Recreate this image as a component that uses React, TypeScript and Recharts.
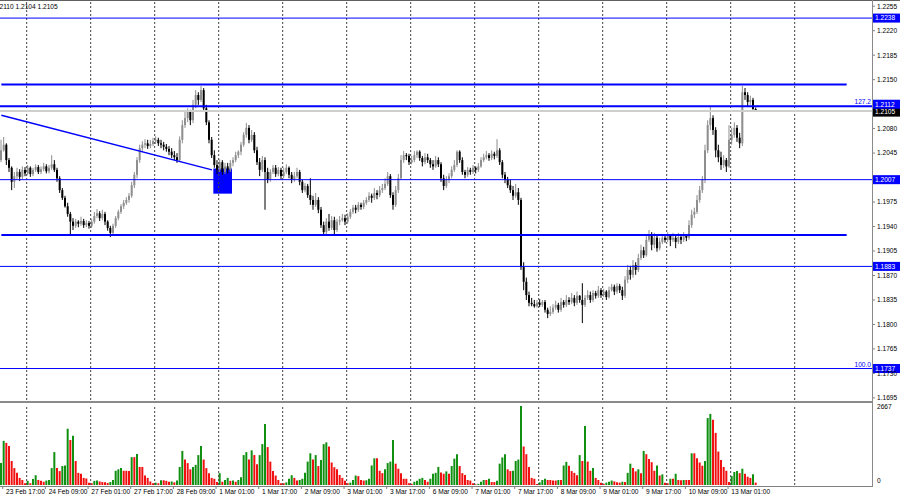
import { ComposedChart, Bar, Cell, XAxis, YAxis, ReferenceLine, ReferenceArea } from 'recharts'

// H1 candles, [open, high, low, close]
const candles: [number, number, number, number][] = [
  [1.2035, 1.2064, 1.2032, 1.2049], [1.2049, 1.2068, 1.2047, 1.2057], [1.2057, 1.2059, 1.2028, 1.2035], [1.2035, 1.2038, 1.2018, 1.2024],
  [1.2024, 1.2026, 1.1992, 1.2004], [1.2004, 1.2018, 1.1995, 1.2012], [1.2012, 1.2024, 1.2008, 1.2018], [1.2018, 1.2022, 1.2005, 1.2011],
  [1.2011, 1.2026, 1.2008, 1.2021], [1.2021, 1.2025, 1.2012, 1.2016], [1.2016, 1.2028, 1.2014, 1.2024], [1.2024, 1.2026, 1.2011, 1.2015],
  [1.2015, 1.2024, 1.2012, 1.2021], [1.2021, 1.2029, 1.2018, 1.2025], [1.2025, 1.2028, 1.2015, 1.2018], [1.2018, 1.2026, 1.2015, 1.2022],
  [1.2022, 1.2031, 1.2019, 1.2026], [1.2026, 1.2029, 1.2016, 1.2019], [1.2019, 1.2028, 1.2016, 1.2024], [1.2024, 1.2042, 1.2021, 1.2029],
  [1.2029, 1.2035, 1.2018, 1.2021], [1.2021, 1.2024, 1.2004, 1.2009], [1.2009, 1.2012, 1.1988, 1.1992], [1.1992, 1.1995, 1.1978, 1.1981],
  [1.1981, 1.1984, 1.1967, 1.1969], [1.1969, 1.1974, 1.1954, 1.1958], [1.1958, 1.1961, 1.1929, 1.1947], [1.1947, 1.1952, 1.1935, 1.1941],
  [1.1941, 1.1951, 1.1938, 1.1947], [1.1947, 1.1949, 1.1939, 1.1944], [1.1944, 1.1954, 1.1941, 1.1948], [1.1948, 1.1951, 1.1938, 1.1942],
  [1.1942, 1.1949, 1.1939, 1.1945], [1.1945, 1.1948, 1.1937, 1.1941], [1.1941, 1.1951, 1.1938, 1.1947], [1.1947, 1.1961, 1.1944, 1.1955],
  [1.1955, 1.1965, 1.1952, 1.1959], [1.1959, 1.1962, 1.1948, 1.1952], [1.1952, 1.1964, 1.1949, 1.1958], [1.1958, 1.1961, 1.1942, 1.1947],
  [1.1947, 1.1949, 1.1934, 1.1938], [1.1938, 1.1941, 1.1925, 1.1931], [1.1931, 1.1944, 1.1928, 1.1941], [1.1941, 1.1955, 1.1938, 1.1952],
  [1.1952, 1.1964, 1.1949, 1.1961], [1.1961, 1.1972, 1.1958, 1.1969], [1.1969, 1.1978, 1.1965, 1.1974], [1.1974, 1.1982, 1.1971, 1.1978],
  [1.1978, 1.1988, 1.1974, 1.1984], [1.1984, 1.2004, 1.1981, 1.1999], [1.1999, 1.2018, 1.1995, 1.2014], [1.2014, 1.2039, 1.2009, 1.2035],
  [1.2035, 1.2057, 1.2031, 1.2052], [1.2052, 1.2062, 1.2047, 1.2057], [1.2057, 1.2065, 1.2052, 1.2059], [1.2059, 1.2064, 1.2051, 1.2055],
  [1.2055, 1.2064, 1.2052, 1.2058], [1.2058, 1.2067, 1.2055, 1.2062], [1.2062, 1.2069, 1.2058, 1.2064], [1.2064, 1.2067, 1.2055, 1.2059],
  [1.2059, 1.2064, 1.2052, 1.2057], [1.2057, 1.2061, 1.2049, 1.2054], [1.2054, 1.2058, 1.2047, 1.2051], [1.2051, 1.2055, 1.2042, 1.2047],
  [1.2047, 1.2052, 1.2038, 1.2042], [1.2042, 1.2048, 1.2035, 1.2039], [1.2039, 1.2045, 1.2031, 1.2035], [1.2035, 1.2069, 1.2032, 1.2064],
  [1.2064, 1.2092, 1.2059, 1.2085], [1.2085, 1.2104, 1.2081, 1.2095], [1.2095, 1.2109, 1.2089, 1.2104], [1.2104, 1.2107, 1.2085, 1.2092],
  [1.2092, 1.2121, 1.2088, 1.2114], [1.2114, 1.2135, 1.2109, 1.2128], [1.2128, 1.2132, 1.2114, 1.2121], [1.2121, 1.2141, 1.2118, 1.2135],
  [1.2135, 1.2138, 1.2104, 1.2109], [1.2109, 1.2114, 1.2085, 1.2089], [1.2089, 1.2092, 1.2059, 1.2064], [1.2064, 1.2068, 1.2038, 1.2042],
  [1.2042, 1.2049, 1.2024, 1.2028], [1.2028, 1.2035, 1.2015, 1.2021], [1.2021, 1.2036, 1.2018, 1.2032], [1.2032, 1.2035, 1.2014, 1.2018],
  [1.2018, 1.2031, 1.2015, 1.2026], [1.2026, 1.2031, 1.2016, 1.2021], [1.2021, 1.2035, 1.2018, 1.2031], [1.2031, 1.2039, 1.2026, 1.2035],
  [1.2035, 1.2047, 1.2032, 1.2042], [1.2042, 1.2049, 1.2038, 1.2047], [1.2047, 1.2061, 1.2042, 1.2057], [1.2057, 1.2075, 1.2054, 1.2071],
  [1.2071, 1.2088, 1.2067, 1.2081], [1.2081, 1.2085, 1.2059, 1.2064], [1.2064, 1.2078, 1.2061, 1.2071], [1.2071, 1.2075, 1.2045, 1.2049],
  [1.2049, 1.2054, 1.2028, 1.2032], [1.2032, 1.2038, 1.2012, 1.2021], [1.2021, 1.2041, 1.2018, 1.2035], [1.2035, 1.2039, 1.1964, 1.2018],
  [1.2018, 1.2024, 1.2002, 1.2007], [1.2007, 1.2022, 1.2004, 1.2018], [1.2018, 1.2028, 1.2015, 1.2024], [1.2024, 1.2028, 1.2011, 1.2015],
  [1.2015, 1.2025, 1.2012, 1.2021], [1.2021, 1.2024, 1.2007, 1.2012], [1.2012, 1.2024, 1.2009, 1.2018], [1.2018, 1.2029, 1.2015, 1.2024],
  [1.2024, 1.2026, 1.2009, 1.2014], [1.2014, 1.2018, 1.2002, 1.2007], [1.2007, 1.2018, 1.2004, 1.2012], [1.2012, 1.2024, 1.2009, 1.2018],
  [1.2018, 1.2021, 1.1999, 1.2004], [1.2004, 1.2007, 1.1988, 1.1992], [1.1992, 1.2002, 1.1989, 1.1998], [1.1998, 1.2001, 1.1981, 1.1985],
  [1.1985, 1.2009, 1.1971, 1.1978], [1.1978, 1.1984, 1.1964, 1.1971], [1.1971, 1.1988, 1.1968, 1.1978], [1.1978, 1.1982, 1.1959, 1.1964],
  [1.1964, 1.1968, 1.1938, 1.1942], [1.1942, 1.1947, 1.1927, 1.1932], [1.1932, 1.1952, 1.1929, 1.1947], [1.1947, 1.1958, 1.1934, 1.1938],
  [1.1938, 1.1955, 1.1935, 1.1949], [1.1949, 1.1954, 1.1927, 1.1935], [1.1935, 1.1951, 1.1932, 1.1947], [1.1947, 1.1955, 1.1942, 1.1949],
  [1.1949, 1.1958, 1.1947, 1.1952], [1.1952, 1.1957, 1.1942, 1.1947], [1.1947, 1.1959, 1.1944, 1.1954], [1.1954, 1.1965, 1.1951, 1.1961],
  [1.1961, 1.1971, 1.1958, 1.1967], [1.1967, 1.1971, 1.1959, 1.1964], [1.1964, 1.1975, 1.1961, 1.1971], [1.1971, 1.1974, 1.1964, 1.1968],
  [1.1968, 1.1978, 1.1965, 1.1974], [1.1974, 1.1982, 1.1971, 1.1978], [1.1978, 1.1989, 1.1975, 1.1984], [1.1984, 1.1987, 1.1974, 1.1981],
  [1.1981, 1.1995, 1.1978, 1.1988], [1.1988, 1.1992, 1.1979, 1.1985], [1.1985, 1.1998, 1.1982, 1.1992], [1.1992, 1.2001, 1.1988, 1.1995],
  [1.1995, 1.2009, 1.1992, 1.2001], [1.2001, 1.2018, 1.1998, 1.2012], [1.2012, 1.2015, 1.1981, 1.1985], [1.1985, 1.1989, 1.1964, 1.1971],
  [1.1971, 1.1998, 1.1968, 1.1992], [1.1992, 1.2015, 1.1988, 1.2009], [1.2009, 1.2042, 1.2007, 1.2035], [1.2035, 1.2048, 1.2031, 1.2042],
  [1.2042, 1.2045, 1.2035, 1.2041], [1.2041, 1.2044, 1.2028, 1.2032], [1.2032, 1.2041, 1.2029, 1.2035], [1.2035, 1.2048, 1.2032, 1.2042],
  [1.2042, 1.2049, 1.2038, 1.2047], [1.2047, 1.2049, 1.2034, 1.2038], [1.2038, 1.2041, 1.2026, 1.2032], [1.2032, 1.2045, 1.2029, 1.2039],
  [1.2039, 1.2044, 1.2031, 1.2035], [1.2035, 1.2038, 1.2024, 1.2029], [1.2029, 1.2035, 1.2021, 1.2026], [1.2026, 1.2041, 1.2024, 1.2035],
  [1.2035, 1.2039, 1.2025, 1.2029], [1.2029, 1.2032, 1.2004, 1.2009], [1.2009, 1.2014, 1.1992, 1.1998], [1.1998, 1.2012, 1.1995, 1.2007],
  [1.2007, 1.2016, 1.2002, 1.2012], [1.2012, 1.2026, 1.2009, 1.2021], [1.2021, 1.2035, 1.2018, 1.2028], [1.2028, 1.2049, 1.2025, 1.2047],
  [1.2047, 1.2049, 1.2031, 1.2035], [1.2035, 1.2039, 1.2014, 1.2018], [1.2018, 1.2021, 1.2009, 1.2014], [1.2014, 1.2025, 1.2011, 1.2021],
  [1.2021, 1.2024, 1.2014, 1.2018], [1.2018, 1.2028, 1.2015, 1.2024], [1.2024, 1.2026, 1.2016, 1.2021], [1.2021, 1.2031, 1.2018, 1.2026],
  [1.2026, 1.2039, 1.2024, 1.2035], [1.2035, 1.2044, 1.2032, 1.2039], [1.2039, 1.2048, 1.2036, 1.2042], [1.2042, 1.2045, 1.2034, 1.2038],
  [1.2038, 1.2049, 1.2035, 1.2044], [1.2044, 1.2047, 1.2036, 1.2041], [1.2041, 1.2065, 1.2038, 1.2049], [1.2049, 1.2052, 1.2028, 1.2032],
  [1.2032, 1.2035, 1.2009, 1.2014], [1.2014, 1.2018, 1.2002, 1.2007], [1.2007, 1.2011, 1.1995, 1.1999], [1.1999, 1.2007, 1.1988, 1.1992],
  [1.1992, 1.1998, 1.1978, 1.1984], [1.1984, 1.2001, 1.1981, 1.1989], [1.1989, 1.1995, 1.1971, 1.1978], [1.1978, 1.1981, 1.1878, 1.1882],
  [1.1882, 1.1889, 1.1849, 1.1861], [1.1861, 1.1867, 1.1835, 1.1842], [1.1842, 1.1847, 1.1826, 1.1831], [1.1831, 1.1838, 1.1826, 1.1829],
  [1.1829, 1.1835, 1.1824, 1.1826], [1.1826, 1.1835, 1.1824, 1.1831], [1.1831, 1.1836, 1.1825, 1.1828], [1.1828, 1.1835, 1.1825, 1.1832],
  [1.1832, 1.1835, 1.1817, 1.1821], [1.1821, 1.1824, 1.1809, 1.1815], [1.1815, 1.1826, 1.1812, 1.1818], [1.1818, 1.1829, 1.1815, 1.1824],
  [1.1824, 1.1834, 1.1821, 1.1828], [1.1828, 1.1831, 1.1817, 1.1821], [1.1821, 1.1838, 1.1818, 1.1832], [1.1832, 1.1835, 1.1824, 1.1828],
  [1.1828, 1.1842, 1.1825, 1.1835], [1.1835, 1.1839, 1.1828, 1.1832], [1.1832, 1.1845, 1.1829, 1.1838], [1.1838, 1.1842, 1.1826, 1.1831],
  [1.1831, 1.1847, 1.1828, 1.1841], [1.1841, 1.1842, 1.1831, 1.1835], [1.1835, 1.1859, 1.1802, 1.1828], [1.1828, 1.1842, 1.1825, 1.1838],
  [1.1838, 1.1849, 1.1835, 1.1842], [1.1842, 1.1847, 1.1831, 1.1835], [1.1835, 1.1849, 1.1832, 1.1845], [1.1845, 1.1848, 1.1837, 1.1841],
  [1.1841, 1.1855, 1.1838, 1.1849], [1.1849, 1.1852, 1.1838, 1.1842], [1.1842, 1.1851, 1.1839, 1.1847], [1.1847, 1.1849, 1.1835, 1.1839],
  [1.1839, 1.1854, 1.1837, 1.1849], [1.1849, 1.1858, 1.1847, 1.1854], [1.1854, 1.1857, 1.1842, 1.1847], [1.1847, 1.1859, 1.1844, 1.1855],
  [1.1855, 1.1858, 1.1845, 1.1849], [1.1849, 1.1854, 1.1835, 1.1841], [1.1841, 1.1869, 1.1838, 1.1864], [1.1864, 1.1885, 1.1859, 1.1878],
  [1.1878, 1.1884, 1.1864, 1.1871], [1.1871, 1.1892, 1.1867, 1.1885], [1.1885, 1.1889, 1.1871, 1.1878], [1.1878, 1.1901, 1.1875, 1.1895],
  [1.1895, 1.1914, 1.1892, 1.1906], [1.1906, 1.1911, 1.1895, 1.1899], [1.1899, 1.1927, 1.1897, 1.1921], [1.1921, 1.1935, 1.1918, 1.1928],
  [1.1928, 1.1932, 1.1906, 1.1914], [1.1914, 1.1931, 1.1909, 1.1924], [1.1924, 1.1928, 1.1904, 1.1909], [1.1909, 1.1924, 1.1906, 1.1918],
  [1.1918, 1.1928, 1.1915, 1.1924], [1.1924, 1.1927, 1.1917, 1.1921], [1.1921, 1.1932, 1.1918, 1.1927], [1.1927, 1.1929, 1.1912, 1.1921],
  [1.1921, 1.1931, 1.1918, 1.1924], [1.1924, 1.1927, 1.1909, 1.1918], [1.1918, 1.1931, 1.1915, 1.1925], [1.1925, 1.1928, 1.1915, 1.1921],
  [1.1921, 1.1932, 1.1918, 1.1927], [1.1927, 1.1929, 1.1919, 1.1924], [1.1924, 1.1949, 1.1921, 1.1942], [1.1942, 1.1964, 1.1938, 1.1957],
  [1.1957, 1.1967, 1.1952, 1.1961], [1.1961, 1.1985, 1.1958, 1.1978], [1.1978, 1.1998, 1.1974, 1.1992], [1.1992, 1.2012, 1.1988, 1.2007],
  [1.2007, 1.2057, 1.2002, 1.2049], [1.2049, 1.2092, 1.2045, 1.2085], [1.2085, 1.2112, 1.2078, 1.2095], [1.2095, 1.2099, 1.2071, 1.2078],
  [1.2078, 1.2082, 1.2039, 1.2049], [1.2049, 1.2057, 1.2032, 1.2039], [1.2039, 1.2047, 1.2021, 1.2028], [1.2028, 1.2042, 1.2024, 1.2035],
  [1.2035, 1.2038, 1.2018, 1.2026], [1.2026, 1.2085, 1.2024, 1.2064], [1.2064, 1.2081, 1.2057, 1.2071], [1.2071, 1.2089, 1.2067, 1.2081],
  [1.2081, 1.2085, 1.2061, 1.2067], [1.2067, 1.2074, 1.2052, 1.2059], [1.2059, 1.2141, 1.2055, 1.2132], [1.2132, 1.2138, 1.2121, 1.2128],
  [1.2128, 1.2132, 1.2112, 1.2118], [1.2118, 1.2127, 1.2114, 1.2121], [1.2121, 1.2124, 1.2107, 1.2108], [1.2108, 1.2110, 1.2104, 1.2105],
]

// tick volume per bar
const volumes: number[] = [
  740, 1490, 1420, 1320, 810, 570, 410, 240, 170, 60,
  140, 60, 200, 330, 170, 140, 110, 150, 170, 570,
  1110, 570, 470, 640, 660, 1900, 1520, 1660, 810, 410,
  380, 240, 220, 80, 60, 140, 150, 120, 100, 90,
  70, 100, 170, 480, 530, 570, 480, 480, 470, 940,
  940, 1050, 610, 610, 320, 240, 120, 60, 80, 60,
  160, 160, 140, 110, 120, 90, 150, 610, 1150, 860,
  740, 530, 610, 680, 1010, 1320, 860, 570, 400, 240,
  210, 100, 400, 110, 170, 240, 140, 150, 110, 170,
  260, 1010, 1110, 860, 1170, 1010, 700, 1010, 1380, 2060,
  1280, 790, 470, 320, 170, 60, 60, 90, 210, 330,
  240, 150, 170, 210, 410, 790, 1070, 860, 1010, 640,
  840, 1380, 1440, 1300, 760, 600, 530, 340, 240, 140,
  60, 80, 170, 320, 300, 170, 150, 160, 210, 660,
  900, 900, 480, 400, 530, 740, 790, 1520, 720, 550,
  400, 210, 210, 60, 40, 110, 140, 210, 240, 170,
  110, 210, 380, 410, 610, 420, 380, 460, 380,
  640, 890, 1040, 640, 400, 340, 170, 150, 60, 20,
  40, 110, 170, 170, 210, 100, 100, 140, 720, 930,
  1040, 530, 470, 480, 810, 860, 2667, 1300, 1040, 610,
  240, 210, 30, 90, 170, 210, 170, 170, 150, 150,
  170, 170, 660, 780, 650, 470, 410, 330, 1010, 810,
  1990, 790, 480, 570, 240, 170, 80, 40, 80, 110,
  150, 120, 90, 80, 110, 100, 410, 720, 570, 460,
  530, 400, 1150, 1040, 880, 770, 480, 660, 320, 360,
  80, 60, 210, 210, 380, 170, 160, 170, 170, 170,
  1070, 1070, 900, 760, 650, 810, 2260, 2400, 2200, 1760,
  1130, 840, 610, 480, 100, 300, 440, 470, 400, 550,
  380, 280, 240, 360, 80,
]

const timeLabels = [
  '23 Feb 17:00', '24 Feb 09:00', '27 Feb 01:00', '27 Feb 17:00', '28 Feb 09:00', '1 Mar 01:00',
  '1 Mar 17:00', '2 Mar 09:00', '3 Mar 01:00', '3 Mar 17:00', '6 Mar 09:00', '7 Mar 01:00',
  '7 Mar 17:00', '8 Mar 09:00', '9 Mar 01:00', '9 Mar 17:00', '10 Mar 09:00', '13 Mar 01:00',
]
const labelBars = [1, 17, 33, 49, 65, 81, 97, 113, 129, 145, 161, 177, 193, 209, 225, 241, 257, 273]
const gridBars = [10, 34, 58, 82, 106, 130, 154, 178, 202, 226, 250, 274, 298]

const priceTicks = [1.2255, 1.222, 1.2185, 1.215, 1.208, 1.2045, 1.1975, 1.194, 1.1905, 1.187, 1.1835, 1.18, 1.1765, 1.173, 1.1695]
const levelPrices = [1.2238, 1.2112, 1.2007, 1.1883, 1.1737]
const fibText: Record<string, string> = { '1.2112': '127.2', '1.1737': '100.0' }
const zonePrices = [1.2143, 1.1928]
const trendFrom = { bar: 0, price: 1.2099 }
const trendTo = { bar: 79, price: 1.2021 }
const boxZone = { from: 80, to: 86, low: 1.1987, high: 1.2023 }
const lastPrice = 1.2105
const headerText = '1.2110 1.2104 1.2105'

const SLOTS = 327 // bars that fit the window incl. right shift

const rows = Array.from({ length: SLOTS }, (_, i) => {
  const c = candles[i]
  if (!c) return { i }
  return { i, o: c[0], h: c[1], l: c[2], c: c[3], v: volumes[i] }
})

const FONT = '"Liberation Sans", Arial, sans-serif'
const BLUE = '#0000ff'

function Candle(props: any) {
  const { x, y, width, height, payload } = props
  if (payload == null || payload.h === undefined) return null
  const top = Math.min(y, y + height)
  const span = Math.abs(height)
  const k = span / (payload.h - payload.l || 1)
  const cx = x + width / 2
  const up = payload.c >= payload.o
  const color = up ? '#8e8e8e' : '#000'
  const bTop = top + (payload.h - Math.max(payload.o, payload.c)) * k
  const bH = Math.max(1, Math.abs(payload.o - payload.c) * k)
  return (
    <g>
      <rect x={cx - 0.5} y={top} width={1} height={Math.max(span, 1)} fill={color} />
      <rect x={cx - 1} y={bTop} width={2} height={bH} fill={color} />
    </g>
  )
}

function tag(text: string, bg: string, shift = 0) {
  return (props: any) => {
    const vb = props.viewBox
    if (!vb) return null
    const x = vb.x + vb.width + 1
    const y = vb.y + shift
    return (
      <g>
        <rect x={x} y={y - 4.5} width={27} height={9} fill={bg} />
        <text x={x + 2} y={y} dy="0.35em" fontSize={6.6} fontFamily={FONT} fill="#fff">
          {text}
        </text>
      </g>
    )
  }
}

function levelLabel(price: number) {
  const key = price.toFixed(4)
  const base = tag(key, BLUE, price === 1.2112 ? -2 : 0)
  const fib = fibText[key]
  return (props: any) => {
    const vb = props.viewBox
    if (!vb) return null
    return (
      <g>
        {fib && (
          <text x={vb.x + vb.width - 1} y={vb.y - 2} textAnchor="end" fontSize={6.6} fontFamily={FONT} fill={BLUE}>
            {fib}
          </text>
        )}
        {base(props)}
      </g>
    )
  }
}

function VolumeTick(props: any) {
  const { x, y, payload } = props
  const v = payload.value
  return (
    <text x={x} y={v === 0 ? y - 4 : y + 1} dy="0.35em" fontSize={6.6} fontFamily={FONT} fill="#000">
      {v}
    </text>
  )
}

function TimeTick(props: any) {
  const { x, payload } = props
  const idx = labelBars.indexOf(payload.value)
  if (idx < 0) return null
  return (
    <g>
      <line x1={x - 1.3} x2={x - 1.3} y1={83} y2={86} stroke="#808080" />
      <text x={x + 2} y={91} fontSize={6.6} fontFamily={FONT} fill="#000">
        {timeLabels[idx]}
      </text>
    </g>
  )
}

export default function App() {
  return (
    <div style={{ position: 'fixed', left: 0, top: 0, width: 900, height: 500, background: '#fff', overflow: 'hidden' }}>
      <div style={{ position: 'absolute', left: 0, top: 0 }}>
        <ComposedChart width={900} height={402} data={rows} margin={{ top: 2, right: 0, bottom: 2, left: 0 }}>
          <XAxis dataKey="i" type="category" hide />
          <YAxis
            orientation="right"
            width={28}
            domain={[1.1692, 1.2261]}
            allowDataOverflow
            ticks={priceTicks}
            interval={0}
            axisLine={false}
            tickSize={3}
            tickMargin={2}
            tickLine={{ stroke: '#808080' }}
            tick={{ fontSize: 6.6, fontFamily: FONT, fill: '#000' }}
            tickFormatter={(v: number) => v.toFixed(4)}
          />
          {gridBars.map((b) => (
            <ReferenceLine key={'g' + b} x={b} position="start" stroke="#444" strokeDasharray="2 2" strokeWidth={1} />
          ))}
          <ReferenceArea x1={boxZone.from} x2={boxZone.to} y1={boxZone.low} y2={boxZone.high} fill={BLUE} fillOpacity={1} stroke="none" ifOverflow="visible" />
          <ReferenceLine y={lastPrice} stroke="#cfcfcf" strokeWidth={2} label={tag(lastPrice.toFixed(4), '#000', 1)} />
          <Bar dataKey={(d: any) => (d.h === undefined ? null : [d.l, d.h])} shape={<Candle />} barSize={2} isAnimationActive={false} />
          {zonePrices.map((p) => (
            <ReferenceLine key={'z' + p} segment={[{ x: 0, y: p }, { x: 317, y: p }]} stroke={BLUE} strokeWidth={2} ifOverflow="visible" />
          ))}
          <ReferenceLine
            segment={[{ x: trendFrom.bar, y: trendFrom.price }, { x: trendTo.bar, y: trendTo.price }]}
            stroke={BLUE}
            strokeWidth={1.5}
            ifOverflow="visible"
          />
          {levelPrices.map((p) => (
            <ReferenceLine key={'l' + p} y={p} stroke={BLUE} strokeWidth={p === 1.2112 ? 2 : 1} label={levelLabel(p)} />
          ))}
        </ComposedChart>
      </div>

      <div style={{ position: 'absolute', left: 0, top: 403 }}>
        <ComposedChart width={900} height={97} data={rows} margin={{ top: 3, right: 0, bottom: 0, left: 0 }}>
          <XAxis dataKey="i" type="category" height={15} ticks={labelBars} interval={0} axisLine={false} tickLine={false} tick={<TimeTick />} />
          <YAxis orientation="right" width={28} domain={[0, 2667]} ticks={[0, 2667]} interval={0} axisLine={false} tickSize={3} tickMargin={2} tickLine={false} tick={<VolumeTick />} />
          {gridBars.map((b) => (
            <ReferenceLine key={'vg' + b} x={b} position="start" stroke="#444" strokeDasharray="2 2" strokeWidth={1} />
          ))}
          <Bar dataKey="v" barSize={2} isAnimationActive={false}>
            {rows.map((r: any, i) => (
              <Cell key={i} fill={i === 0 || (r.v ?? 0) > (rows[i - 1] as any).v ? '#109010' : '#f01010'} />
            ))}
          </Bar>
        </ComposedChart>
      </div>

      <div style={{ position: 'absolute', left: 0, top: 0, width: 900, height: 1, background: '#606060' }} />
      <div style={{ position: 'absolute', left: 0, top: 401, width: 873, height: 2, background: '#8a8a8a' }} />
      <div style={{ position: 'absolute', left: 0, top: 486, width: 873, height: 1, background: '#808080' }} />
      <div style={{ position: 'absolute', left: 872, top: 0, width: 1, height: 487, background: '#8a8a8a' }} />
      <div style={{ position: 'absolute', left: -6, top: 3, fontSize: 6.6, fontFamily: FONT, color: '#000', whiteSpace: 'nowrap', lineHeight: '8px' }}>
        {headerText}
      </div>
    </div>
  )
}
